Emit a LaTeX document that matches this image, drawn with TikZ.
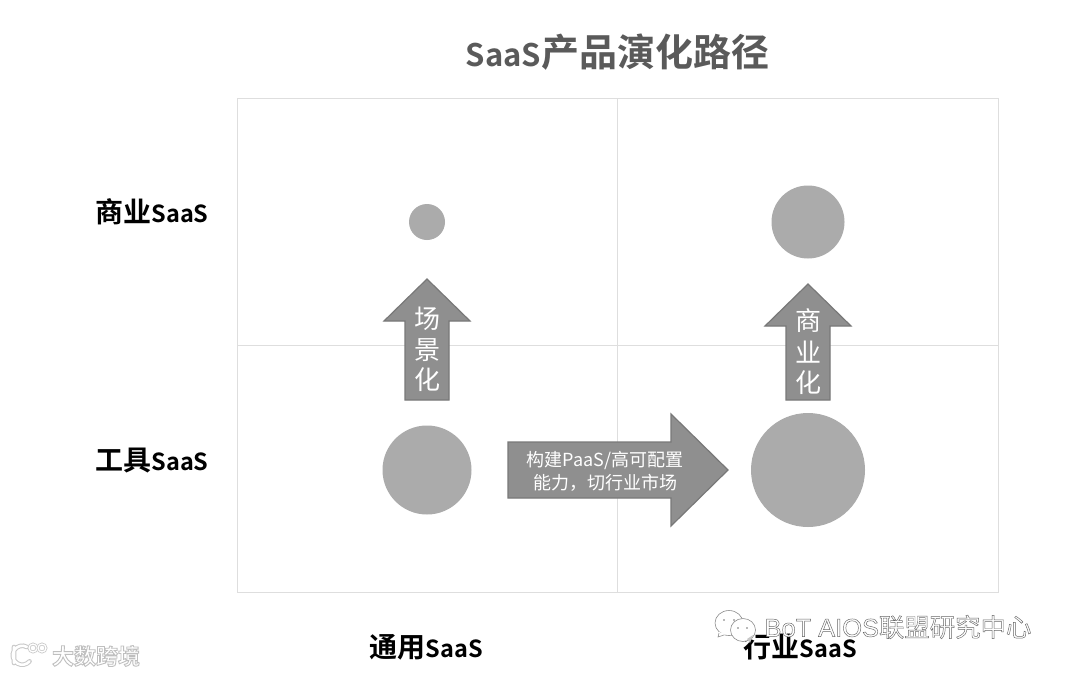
\documentclass[tikz,border=0pt]{standalone}
\usepackage{fontspec}
\setmainfont{Noto Sans CJK SC}
\newfontfamily\cjkb{Noto Sans CJK SC Bold}
\newfontfamily\cjkr{Noto Sans CJK SC}
\newfontfamily\wmlat{Liberation Sans}
\definecolor{gridc}{HTML}{DEDEDE}
\definecolor{dotc}{HTML}{ABABAB}
\definecolor{arrf}{HTML}{8F8F8F}
\definecolor{arrd}{HTML}{787878}
\definecolor{titlec}{HTML}{5A5A5A}
\newcommand{\axsz}{\fontsize{23.5}{30}\selectfont}
\newcommand{\axtxt}[1]{#1\axsz SaaS}
% white text with a stroked outline: width, stroke grey, text
\newcommand{\outl}[3]{\special{pdf:code 2 Tr #1 w #2 G}#3\special{pdf:code 0 Tr}}
\tikzset{
  x=1pt,y=-1pt,
  gridline/.style={draw=gridc,line width=0.9pt},
  dot/.style={circle,fill=dotc,draw=none,inner sep=0pt},
  bigarrow/.style={fill=arrf,draw=arrd,line width=1.2pt,line join=miter},
  axislabel/.style={font=\fontsize{28}{30}\cjkb\selectfont,text=black,inner sep=0pt},
  arrowtxt/.style={font=\fontsize{26}{28}\cjkr\selectfont,text=white,inner sep=0pt},
  flowtxt/.style={font=\fontsize{18}{23}\cjkr\selectfont,text=white,inner sep=0pt,align=center},
  wmfill/.style={inner sep=0pt,text=white},
}
\begin{document}
\begin{tikzpicture}
\useasboundingbox (0,0) rectangle (1067,675);
\fill[white] (0,0) rectangle (1067,675);
% grid
\draw[gridline] (237,98) rectangle (998,592);
\coordinate (gt) at (617,98); \coordinate (gb) at (617,592);
\coordinate (gl) at (237,345); \coordinate (gr) at (998,345);
\draw[gridline] (gt) -- (gb);
\draw[gridline] (gl) -- (gr);
% title
\node[font=\fontsize{38}{40}\cjkb\selectfont,text=titlec,inner sep=0pt] (title) at (617.5,52) {\fontsize{31}{40}\selectfont SaaS\fontsize{38}{40}\selectfont 产品演化路径};
% dots
\node[dot,minimum size=36pt] (d1) at (427,222) {};
\node[dot,minimum size=73pt] (d2) at (808,222) {};
\node[dot,minimum size=89pt] (d3) at (427,470) {};
\node[dot,minimum size=114pt] (d4) at (808,470) {};
% arrows
\draw[bigarrow] (427,279) -- (470,321) -- (449,321) -- (449,400) -- (405,400) -- (405,321) -- (384,321) -- cycle;
\draw[bigarrow] (808,284) -- (851,326) -- (830,326) -- (830,400) -- (786,400) -- (786,326) -- (765,326) -- cycle;
\draw[bigarrow] (508,442) -- (671,442) -- (671,414) -- (728,470) -- (671,526) -- (671,498) -- (508,498) -- cycle;
\node[arrowtxt] (a1) at (427,319) {场};
\node[arrowtxt] (a2) at (427,350) {景};
\node[arrowtxt] (a3) at (427,380) {化};
\node[arrowtxt] (b1) at (808,321) {商};
\node[arrowtxt] (b2) at (808,352) {业};
\node[arrowtxt] (b3) at (808,383) {化};
\node[flowtxt] (flow) at (605,471) {构建PaaS/高可配置\\能力，切行业市场};
% axis labels
\node[axislabel] (l1) at (152,212) {\axtxt{商业}};
\node[axislabel] (l2) at (152,461) {\axtxt{工具}};
\node[axislabel] (l3) at (426.5,647) {\axtxt{通用}};
\node[axislabel] (l4) at (800.5,647) {\axtxt{行业}};
% watermark left
\begin{scope}[line cap=round]
\draw[black!22,line width=4.6pt] (14,647) -- (14,663) (27,647) arc[start angle=-60,end angle=-320,radius=9.5];
\draw[white,line width=2.6pt] (14,647) -- (14,663) (27,647) arc[start angle=-60,end angle=-320,radius=9.5];
\foreach \cx in {33,42}{
  \draw[black!22,line width=2.8pt] (\cx,648) circle[radius=4];
  \draw[white,line width=1.3pt] (\cx,648) circle[radius=4];
}
\end{scope}
\node[wmfill,font=\fontsize{22}{24}\cjkb\selectfont] (wm1) at (96,656) {\outl{0.9}{0.75}{大数跨境}};
% watermark right
\begin{scope}[line width=0.6pt,draw=black!45]
\draw[fill=white] (729,623) ellipse[x radius=14,y radius=12.5];
\fill[white] (719,632) -- (718,637) -- (726,634) -- cycle;
\draw (719,633) -- (718,637) -- (724,635);
\draw[fill=white] (743,630) ellipse[x radius=12.5,y radius=11.5];
\fill[black!22] (747,639) -- (753,635) -- (750,643) -- cycle;
\fill[black!55] (724,620) circle[radius=.9] (734,620) circle[radius=.9] (738,628) circle[radius=.9] (747,628) circle[radius=.9];
\end{scope}
\node[wmfill,font=\fontsize{25.4}{27}\selectfont] (wm2) at (898,627) {\outl{0.45}{0.4}{\wmlat BoT AIOS\cjkr 联盟研究中心}};
\end{tikzpicture}
\end{document}
